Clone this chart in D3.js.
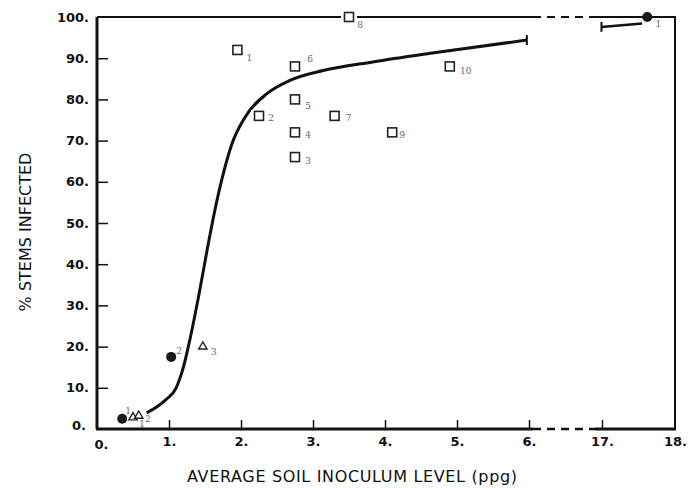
<!DOCTYPE html>
<html>
<head>
<meta charset="UTF-8">
<title>% stems infected vs soil inoculum</title>
<style>
  body { margin: 0; background: #fff; }
  svg { display: block; }
  .tick text { font-family: "DejaVu Sans", sans-serif; font-weight: bold; font-size: 13px; fill: #111; }
  .tick line { stroke: #111; stroke-width: 1.5; }
  .ptlab { font-family: "DejaVu Serif", serif; font-size: 9px; fill: #666; }
  .title { font-family: "DejaVu Sans", sans-serif; font-size: 16px; fill: #111; }
</style>
</head>
<body>
<svg width="691" height="488"></svg>
<script src="https://d3js.org/d3.v7.min.js"></script>
<script>
// data
const xTicks = [0, 1, 2, 3, 4, 5, 6, 17, 18];
const yTicks = [0, 10, 20, 30, 40, 50, 60, 70, 80, 90, 100];

const squareX = [1.95, 2.25, 2.75, 2.75, 2.75, 2.75, 3.3, 3.5, 4.1, 4.9];
const squareY = [92, 76, 66, 72, 80, 88, 76, 100, 72, 88];
const squareLab = ["1", "2", "3", "4", "5", "6", "7", "8", "9", "10"];

const circleX = [0.35, 1.03, 17.62];
const circleY = [2.5, 17.5, 100];
const circleLab = ["1", "2", "1"];

const triX = [0.5, 0.58, 1.47];
const triY = [2.8, 3.2, 20];
const triLab = ["1", "2", "3"];

// fitted curve, lower part (0-6 ppg)
const curveX = [0.69, 0.95, 1.1, 1.2, 1.3, 1.42, 1.53, 1.63, 1.74, 1.87, 2.05, 2.36, 2.68, 3.14, 3.83, 4.63, 5.97];
const curveY = [3.9, 7.0, 10.0, 15.0, 22.5, 33.0, 43.5, 52.5, 61.0, 69.0, 75.5, 81.4, 84.6, 87.0, 89.1, 91.2, 94.4];
// continuation past the axis break
const curve2X = [16.92, 17.55];
const curve2Y = [97.6, 98.4];

const svg = d3.select("svg");

// broken x axis: 0-6 then 17-18
const x = d3.scaleLinear()
  .domain([0, 6, 17, 18])
  .range([97, 529, 602, 675]);
const y = d3.scaleLinear()
  .domain([0, 100])
  .range([429, 17]);

const x0 = x(0), x1 = x(18), y0 = y(0), y1 = y(100);
const brkA = x(6) + 4, brkB = x(17) - 7;

// axes
const xAxis = d3.axisBottom(x)
  .tickValues(xTicks)
  .tickSizeInner(-9).tickSizeOuter(0).tickPadding(8)
  .tickFormat(d => d + ".");
const gx = svg.append("g").attr("transform", `translate(0,${y0})`).call(xAxis);
gx.select(".domain").remove();
gx.selectAll(".tick").filter(d => d === 0 || d === 18).select("line").remove();
gx.selectAll(".tick").filter(d => d === 0).select("text").attr("dx", 4).attr("dy", "0.9em");

const yAxis = d3.axisLeft(y)
  .tickValues(yTicks)
  .tickSizeInner(-11).tickSizeOuter(0).tickPadding(8)
  .tickFormat(d => d + ".");
const gy = svg.append("g").attr("transform", `translate(${x0},0)`).call(yAxis);
gy.select(".domain").remove();
gy.selectAll(".tick").filter(d => d === 0 || d === 100).select("line").remove();
gy.selectAll(".tick").filter(d => d === 0).select("text").attr("dy", "0.0em").attr("dx", -3);

// frame with the break
const frame = svg.append("g").attr("stroke", "#111").attr("fill", "none");
frame.append("path").attr("d", `M${x0},${y1}V${y0}`).attr("stroke-width", 3);
frame.append("path").attr("d", `M${x0 - 1},${y0}H${brkA}M${brkB},${y0}H${x1 + 1}`).attr("stroke-width", 3);
frame.append("path").attr("d", `M${brkA},${y0}H${brkB}`).attr("stroke-width", 2.5).attr("stroke-dasharray", "8,6");
frame.append("path").attr("d", `M${x0},${y1}H${brkA}M${brkB},${y1}H${x1}V${y0}`).attr("stroke-width", 2);
frame.append("path").attr("d", `M${brkA},${y1}H${brkB}`).attr("stroke-width", 2).attr("stroke-dasharray", "8,6");

// fitted curve
const line = d3.line().x(d => x(d[0])).y(d => y(d[1])).curve(d3.curveMonotoneX);
const seg1 = curveX.map((v, i) => [v, curveY[i]]);
const seg2 = curve2X.map((v, i) => [v, curve2Y[i]]);
const cg = svg.append("g").attr("stroke", "#111").attr("fill", "none").attr("stroke-width", 3);
cg.append("path").attr("d", line(seg1));
cg.append("path").attr("d", line(seg2)).attr("stroke-width", 2.5);
// end bars
const e1 = seg1[seg1.length - 1], e2 = seg2[0];
cg.append("path").attr("stroke-width", 2).attr("d", `M${x(e1[0])},${y(e1[1]) - 5}v10`);
cg.append("path").attr("stroke-width", 2).attr("d", `M${x(e2[0])},${y(e2[1]) - 5}v10`);

// point label offsets (centre of number relative to marker)
const sqOff = [[12, 9], [12, 3], [13, 4], [13, 3], [13, 7], [15, -7], [14, 3], [11, 8], [10, 3], [16, 5]];
const ciOff = [[6, -7], [8, -5], [11, 7]];
const trOff = [[9, 7], [9, 4], [11, 6]];

// squares (open, white halo breaks the frame line)
const sq = svg.append("g");
squareX.forEach((v, i) => {
  const cx = x(v), cy = y(squareY[i]);
  sq.append("rect").attr("x", cx - 8).attr("y", cy - 6).attr("width", 16).attr("height", 12).attr("fill", "#fff");
  sq.append("rect").attr("x", cx - 4.5).attr("y", cy - 4.5).attr("width", 9).attr("height", 9)
    .attr("fill", "#fff").attr("stroke", "#222").attr("stroke-width", 1.6);
  sq.append("text").attr("class", "ptlab").attr("x", cx + sqOff[i][0]).attr("y", cy + sqOff[i][1])
    .attr("text-anchor", "middle").attr("dominant-baseline", "middle").text(squareLab[i]);
});

// filled circles
const ci = svg.append("g");
circleX.forEach((v, i) => {
  const cx = x(v), cy = y(circleY[i]);
  ci.append("circle").attr("cx", cx).attr("cy", cy).attr("r", 5).attr("fill", "#1a1a1a");
  ci.append("text").attr("class", "ptlab").attr("x", cx + ciOff[i][0]).attr("y", cy + ciOff[i][1])
    .attr("text-anchor", "middle").attr("dominant-baseline", "middle").text(circleLab[i]);
});

// open triangles
const tr = svg.append("g");
const tri = d3.symbol().type(d3.symbolTriangle).size(30);
triX.forEach((v, i) => {
  const cx = x(v), cy = y(triY[i]);
  tr.append("path").attr("d", tri()).attr("transform", `translate(${cx},${cy})`)
    .attr("fill", "#fff").attr("stroke", "#222").attr("stroke-width", 1.4);
  tr.append("text").attr("class", "ptlab").attr("x", cx + trOff[i][0]).attr("y", cy + trOff[i][1])
    .attr("text-anchor", "middle").attr("dominant-baseline", "middle").text(triLab[i]);
});

// axis titles
svg.append("text").attr("class", "title")
  .attr("x", 352).attr("y", 482).attr("text-anchor", "middle")
  .attr("textLength", 330).attr("lengthAdjust", "spacing")
  .text("AVERAGE SOIL INOCULUM LEVEL (ppg)");
svg.append("text").attr("class", "title")
  .attr("transform", "translate(31,232) rotate(-90)").attr("text-anchor", "middle")
  .text("% STEMS INFECTED");
</script>
</body>
</html>
